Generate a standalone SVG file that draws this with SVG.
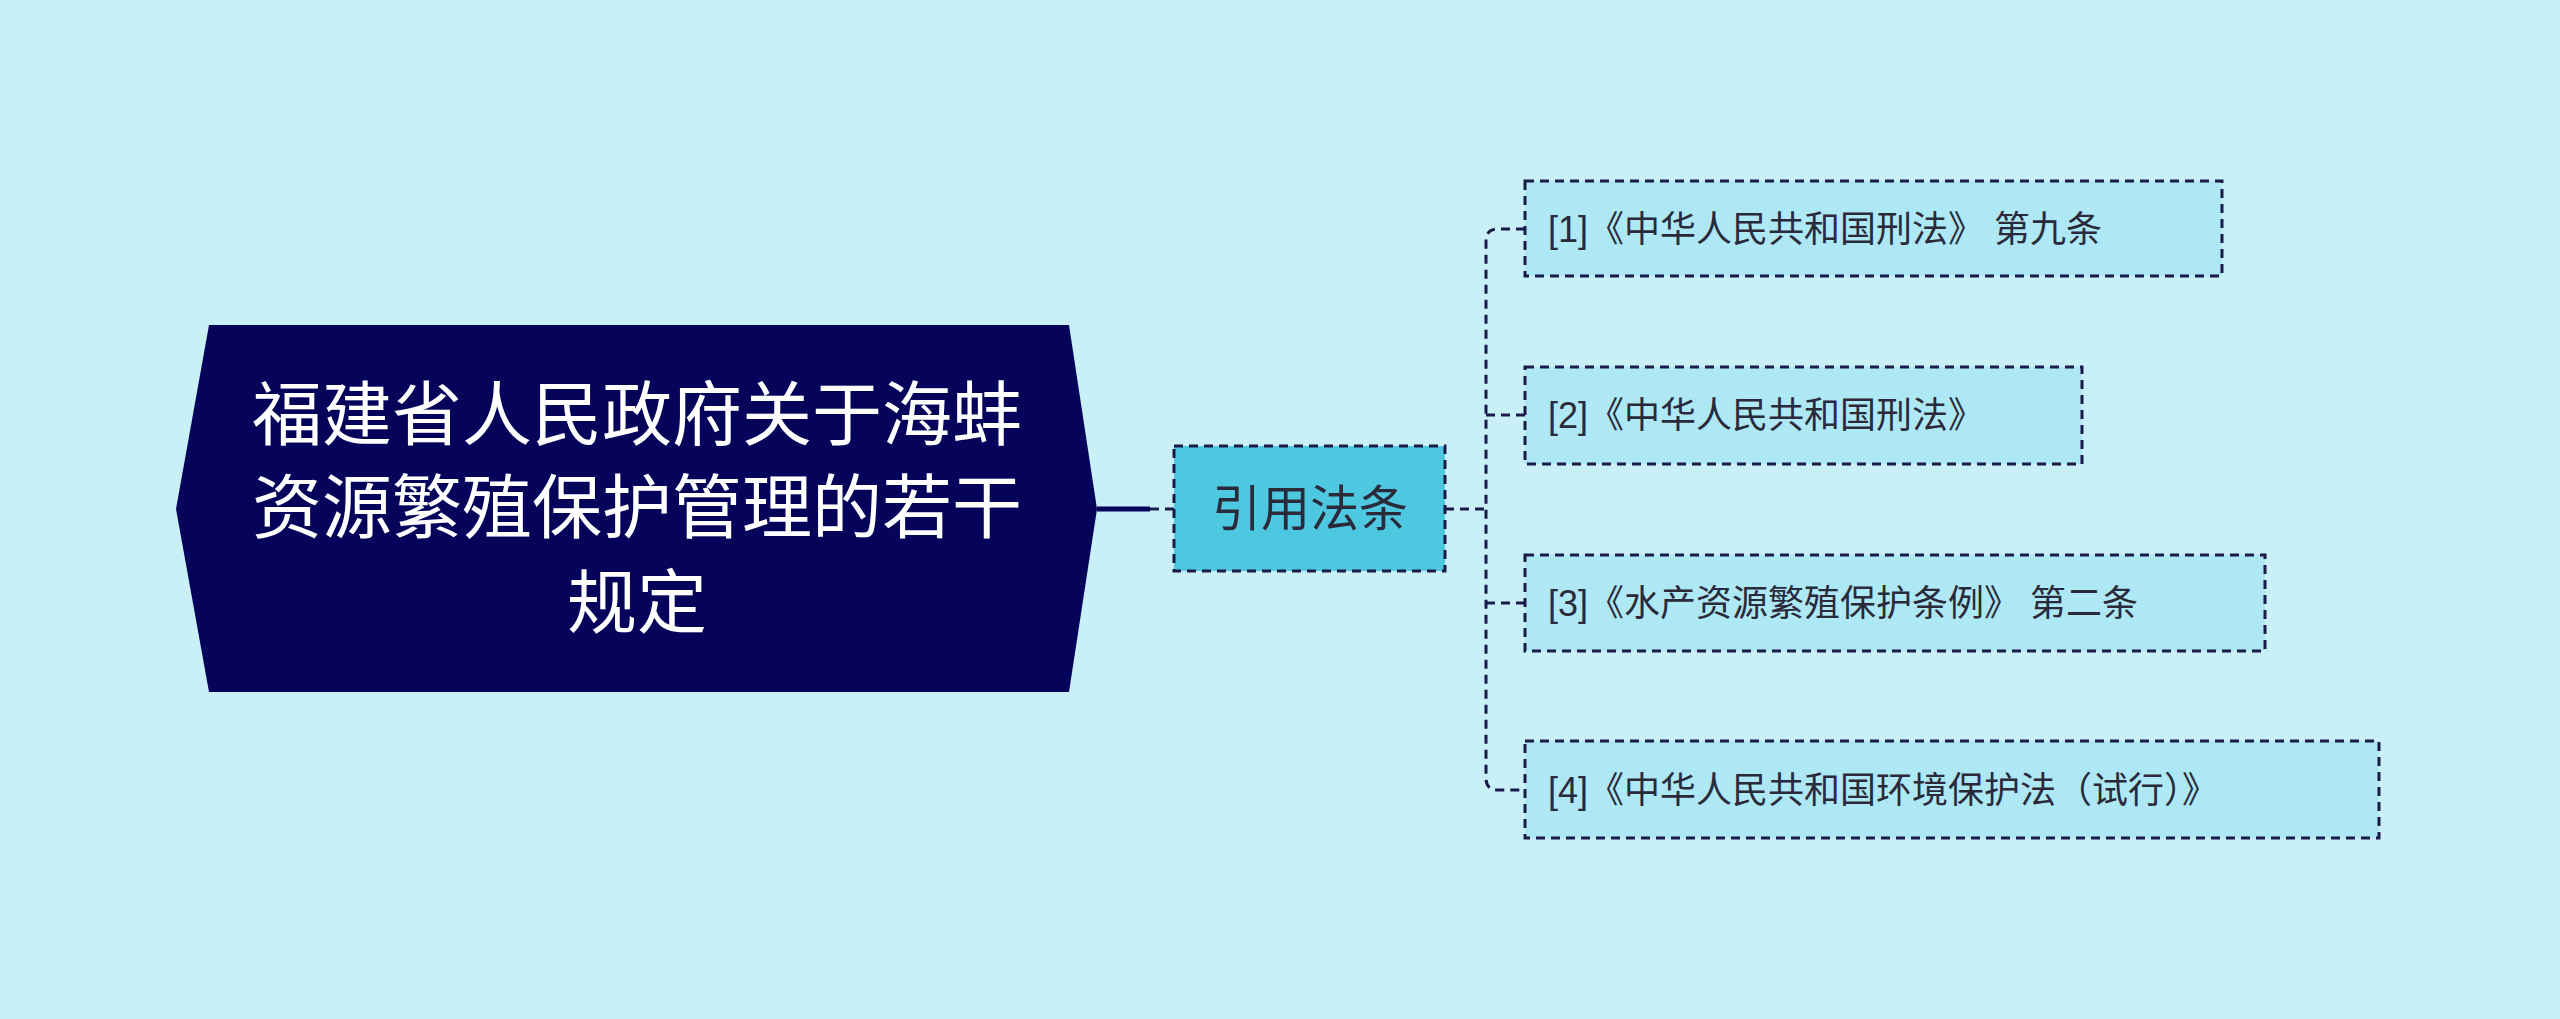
<svg xmlns="http://www.w3.org/2000/svg" width="2560" height="1019" viewBox="0 0 2560 1019">
<style>
.leaf rect{fill:#ade8f4;stroke:#1b1b4b;stroke-width:3;stroke-dasharray:9 6}
.leaf text{font-family:"Liberation Sans","Noto Sans CJK SC",sans-serif;font-size:36px;fill:#2a2a3a}
.conn{fill:none;stroke:#1b1b4b;stroke-width:3;stroke-dasharray:9 6}
</style>
<rect width="2560" height="1019" fill="#c9f0f6"/>
<g id="connectors">
<path d="M1097 509 H1150" stroke="#05045a" stroke-width="5" fill="none"/>
<path class="conn" d="M1150 509 H1174"/>
<path class="conn" d="M1445 509 H1486"/>
<path class="conn" d="M1525 229 H1498 Q1486 229 1486 241 V778 Q1486 790 1498 790 H1525"/>
<path class="conn" d="M1486 415 H1525 M1486 603 H1525"/>
</g>
<g id="root">
<polygon points="176,509 209,325 1069,325 1097,509 1069,692 209,692" fill="#05045a"/>
<text x="637" y="416" text-anchor="middle" dominant-baseline="central" font-family="Liberation Sans,Noto Sans CJK SC,sans-serif" font-size="70" fill="#ffffff">福建省人民政府关于海蚌</text>
<text x="637" y="509" text-anchor="middle" dominant-baseline="central" font-family="Liberation Sans,Noto Sans CJK SC,sans-serif" font-size="70" fill="#ffffff">资源繁殖保护管理的若干</text>
<text x="637" y="604" text-anchor="middle" dominant-baseline="central" font-family="Liberation Sans,Noto Sans CJK SC,sans-serif" font-size="70" fill="#ffffff">规定</text>
</g>
<g id="mid">
<rect x="1174" y="446" width="271" height="125" fill="#4dc8e0" stroke="#1b1b4b" stroke-width="3" stroke-dasharray="9 6"/>
<text x="1310" y="509" text-anchor="middle" dominant-baseline="central" font-family="Liberation Sans,Noto Sans CJK SC,sans-serif" font-size="49" fill="#2a2a3a">引用法条</text>
</g>
<g id="n1" class="leaf"><rect x="1525" y="181" width="697" height="95"/><text x="1548" y="229" dominant-baseline="central">[1]《中华人民共和国刑法》 第九条</text></g>
<g id="n2" class="leaf"><rect x="1525" y="367" width="557" height="97"/><text x="1548" y="415" dominant-baseline="central">[2]《中华人民共和国刑法》</text></g>
<g id="n3" class="leaf"><rect x="1525" y="555" width="740" height="96"/><text x="1548" y="603" dominant-baseline="central">[3]《水产资源繁殖保护条例》 第二条</text></g>
<g id="n4" class="leaf"><rect x="1525" y="741" width="854" height="97"/><text x="1548" y="790" dominant-baseline="central">[4]《中华人民共和国环境保护法（试行）》</text></g>
</svg>
